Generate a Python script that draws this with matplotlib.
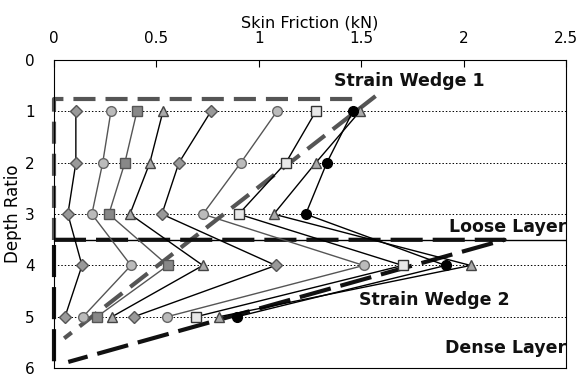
import matplotlib.pyplot as plt
import numpy as np

# Skin friction (kN) at depth ratios 1..5 for each load step
depth = [1, 2, 3, 4, 5]
s1 = [0.107, 0.107, 0.068, 0.137, 0.054]
s2 = [0.278, 0.238, 0.185, 0.376, 0.142]
s3 = [0.405, 0.346, 0.268, 0.556, 0.210]
s4 = [0.532, 0.468, 0.371, 0.727, 0.283]
s5 = [0.766, 0.610, 0.527, 1.083, 0.390]
s6 = [1.088, 0.912, 0.727, 1.512, 0.551]
s7 = [1.278, 1.132, 0.902, 1.702, 0.693]
s8 = [1.493, 1.278, 1.073, 2.034, 0.805]
s9 = [1.459, 1.332, 1.229, 1.912, 0.893]

# wedge boundaries
wedge1_x = [0, 0, 1.5]
wedge1_y = [3.5, 0.75, 0.75]
wedge1_diag_x = [1.57, 0.05]
wedge1_diag_y = [0.70, 5.42]
wedge2_x = [0, 2.2, 0.07]
wedge2_y = [3.5, 3.5, 5.88]
wedge2_left_x = [0, 0]
wedge2_left_y = [3.6, 6]

fig = plt.figure(figsize=(5.8, 3.76), dpi=100)
ax = fig.add_axes([0.093, 0.021, 0.883, 0.819])

ax.axhline(3.5, color='black', lw=1, zorder=1)

styles = [
    (s1, 'D', '#999999', '#555555', 'black', 6),
    (s2, 'o', '#bbbbbb', '#666666', '#555555', 7),
    (s3, 's', '#888888', '#555555', '#555555', 7),
    (s4, '^', '#aaaaaa', '#444444', 'black', 7),
    (s5, 'D', '#999999', '#555555', 'black', 6),
    (s6, 'o', '#bbbbbb', '#666666', '#555555', 7),
    (s7, 's', '#e8e8e8', '#333333', 'black', 7),
    (s8, '^', '#aaaaaa', '#444444', 'black', 7),
    (s9, 'o', 'black', 'black', 'black', 7),
]
for vals, m, fc, ec, lc, ms in styles:
    ax.plot(vals, depth, color=lc, lw=1, marker=m, ms=ms,
            markerfacecolor=fc, markeredgecolor=ec, zorder=3)

gray_dash = (0, (5.3, 2.4))
black_dash = (0, (7.7, 2.4))
ax.plot(wedge1_x, wedge1_y, color='#555555', lw=3, ls=gray_dash,
        zorder=2.5, clip_on=False)
ax.plot(wedge1_diag_x, wedge1_diag_y, color='#555555', lw=3, ls=gray_dash, zorder=2.5)
ax.plot(wedge2_x, wedge2_y, color='#111111', lw=3, ls=black_dash,
        zorder=2.5, clip_on=False)
ax.plot(wedge2_left_x, wedge2_left_y, color='#111111', lw=3, ls=black_dash,
        zorder=2.5, clip_on=False)

for yv in depth:
    ax.axhline(yv, color='black', lw=0.7, ls=(0, (1.5, 2)), zorder=0)

lab = dict(fontsize=12.5, fontweight='bold', color='#111111', va='center')
ax.text(1.737, 0.4, 'Strain Wedge 1', ha='center', **lab)
ax.text(2.5, 3.25, 'Loose Layer', ha='right', **lab)
ax.text(1.859, 4.67, 'Strain Wedge 2', ha='center', **lab)
ax.text(2.5, 5.6, 'Dense Layer', ha='right', **lab)

ax.set_xlim(0, 2.5)
ax.set_ylim(6, 0)
ax.set_xticks([0, 0.5, 1, 1.5, 2, 2.5])
ax.set_xticklabels(['0', '0.5', '1', '1.5', '2', '2.5'])
ax.set_yticks([0, 1, 2, 3, 4, 5, 6])
ax.xaxis.tick_top()
ax.xaxis.set_label_position('top')
ax.tick_params(axis='x', direction='in', length=5, labelsize=11, pad=10)
ax.tick_params(axis='y', length=0, labelsize=11, pad=14)
ax.set_xlabel('Skin Friction (kN)', fontsize=11.5, labelpad=3)
ax.set_ylabel('Depth Ratio', fontsize=12, labelpad=2)

plt.savefig('out.png')
